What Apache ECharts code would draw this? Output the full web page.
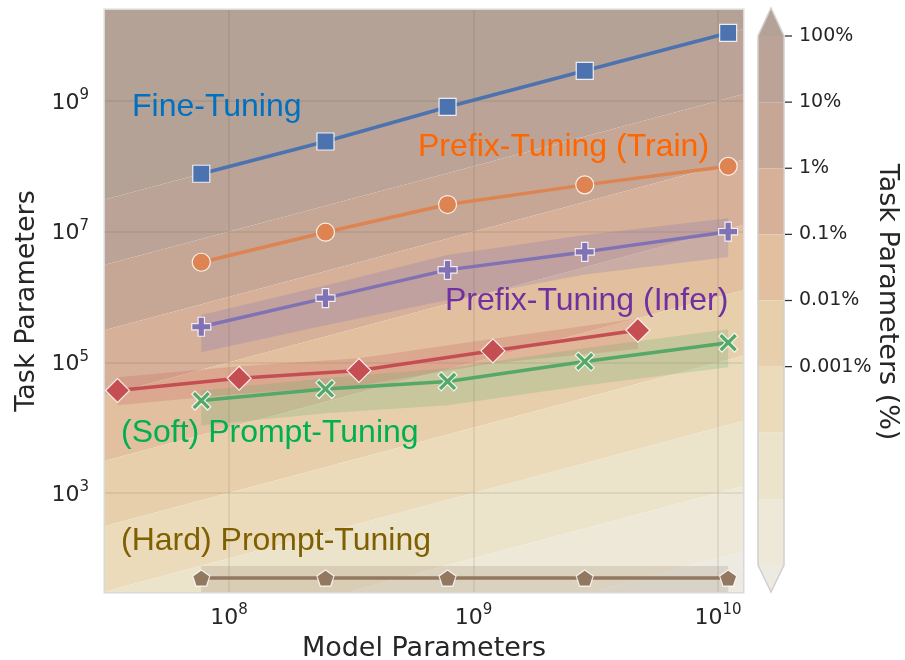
<!DOCTYPE html>
<html><head><meta charset="utf-8">
<script src="https://cdn.jsdelivr.net/npm/echarts@6/dist/echarts.min.js"></script>
<style>html,body{margin:0;padding:0;background:#fff}#c{width:905px;height:660px}</style>
</head><body><div id="c"></div>
<script>
// ---- data ----
const t5Sizes      = [7.7e7, 2.48e8, 7.83e8, 2.85e9, 1.1e10];
const redSizes     = [3.5e7, 1.1e8, 3.4e8, 1.2e9, 4.7e9];

const fineTuning   = [7.7e7, 2.4e8, 8.1e8, 2.9e9, 1.1e10];
const prefixTrain  = [3.4e6, 9.8e6, 2.6e7, 5.2e7, 1.0e8];
const prefixInfer  = [3.5e5, 9.6e5, 2.6e6, 4.9e6, 1.0e7];
const prefixInferLo= [1.43e5, 3.7e5, 9.0e5, 2.2e6, 4.1e6];
const prefixInferHi= [5.3e5, 1.5e6, 4.4e6, 8.9e6, 1.6e7];
const redSeries    = [3.7e4, 5.7e4, 7.5e4, 1.5e5, 3.1e5];
const redLo        = [2.2e4, 3.3e4, 4.4e4, 9.7e4, 1.6e5];
const redHi        = [5.9e4, 8.7e4, 1.15e5, 2.3e5, 4.7e5];
const softPrompt   = [2.6e4, 3.9e4, 5.1e4, 1.03e5, 2.0e5];
const softLo       = [1.08e4, 1.66e4, 2.2e4, 4.4e4, 8.4e4];
const softHi       = [3.7e4, 5.7e4, 8.1e4, 1.64e5, 3.2e5];
const hardPrompt   = [50, 50, 50, 50, 50];
const hardLo       = [25, 25, 25, 25, 25];
const hardHi       = [76, 76, 76, 76, 76];

const xTicks = [1e8, 1e9, 1e10];
const yTicks = [1e3, 1e5, 1e7, 1e9];
// colour-bar levels in percent (top to bottom)
const pctLevels = [100, 10, 1, 0.1, 0.01, 0.001, 1e-4, 1e-5, 1e-6];
const pctTickValues = [100, 10, 1, 0.1, 0.01, 0.001];
const pctTickLabels = ['100%', '10%', '1%', '0.1%', '0.01%', '0.001%'];
const bandColors = ['#b4a296', '#bba497', '#c6a795', '#d6b098', '#e2bf9f',
                    '#e8cfab', '#ebdbbb', '#ece3cb', '#ede8d8', '#eceae1'];

// ---- axis range ----
const X_MIN = 3.11e7, X_MAX = 1.265e10;
const Y_MIN = 30.5, Y_MAX = 2.47e10;

// background bands: [loPct, hiPct]
const bgData = [];
for (let i = 0; i <= pctLevels.length; i++) {
  const hi = i === 0 ? 1e6 : pctLevels[i - 1];
  const lo = i === pctLevels.length ? 1e-10 : pctLevels[i];
  bgData.push([lo, hi]);
}
// colour bar items: [loPct, hiPct, kind]
const cbData = [];
for (let i = 1; i < pctLevels.length; i++) cbData.push([pctLevels[i], pctLevels[i - 1], 0]);

const FONT = 'DejaVu Sans';
const TXT = '#262626';

function zip(xs, ys) { return xs.map((x, i) => [x, ys[i]]); }

function ciSeries(xs, lo, hi, color) {
  return {
    type: 'custom', xAxisIndex: 0, yAxisIndex: 0, z: 4, clip: true, silent: true,
    data: xs.map((x, i) => [x, lo[i], hi[i]]),
    encode: { x: 0, y: [1, 2] },
    renderItem: (params, api) => {
      if (params.dataIndex !== 0) return null;
      const top = xs.map((x, i) => api.coord([x, hi[i]]));
      const bot = xs.map((x, i) => api.coord([x, lo[i]])).reverse();
      return { type: 'polygon', shape: { points: top.concat(bot) }, style: { fill: color } };
    }
  };
}

const plusPath = 'path://M-1,-3L1,-3L1,-1L3,-1L3,1L1,1L1,3L-1,3L-1,1L-3,1L-3,-1L-1,-1Z';
const xPath = 'path://M-3,-2L-2,-3L0,-1L2,-3L3,-2L1,0L3,2L2,3L0,1L-2,3L-3,2L-1,0Z';
const pentPath = 'path://M0,-1L0.951,-0.309L0.588,0.809L-0.588,0.809L-0.951,-0.309Z';

function lineSeries(xs, ys, color, symbol, size) {
  return {
    type: 'line', xAxisIndex: 0, yAxisIndex: 0, z: 5, data: zip(xs, ys),
    symbol: symbol, symbolSize: size, symbolKeepAspect: true, showAllSymbol: true,
    lineStyle: { color: color, width: 3.5 },
    itemStyle: { color: color, borderColor: 'rgba(255,255,255,0.85)', borderWidth: 1.2, opacity: 1 },
    emphasis: { disabled: true }, silent: true
  };
}

const supRich = {
  b: { fontSize: 22, fontFamily: FONT, color: TXT, lineHeight: 26, verticalAlign: 'bottom' },
  s: { fontSize: 15, fontFamily: FONT, color: TXT, lineHeight: 15, verticalAlign: 'top' }
};
function powLabel(v) {
  const e = Math.round(Math.log10(v));
  return '{b|10}{s|' + e + '}';
}

const annFont = '32px "Liberation Sans", Arial';

const chart = echarts.init(document.getElementById('c'), null, { renderer: 'canvas' });
chart.setOption({
  animation: false,
  backgroundColor: '#ffffff',
  grid: [
    { left: 105, top: 10, width: 638, height: 582, show: true, borderColor: '#d9d9d9', borderWidth: 3,
      backgroundColor: 'transparent', containLabel: false, outerBoundsMode: 'none' },
    { left: 758, top: 36, width: 26, height: 529, show: false, containLabel: false, outerBoundsMode: 'none' }
  ],
  xAxis: [
    {
      type: 'log', gridIndex: 0, min: X_MIN, max: X_MAX, z: 3,
      name: 'Model Parameters', nameLocation: 'middle', nameGap: 43,
      nameTextStyle: { fontFamily: FONT, fontSize: 27, color: TXT },
      axisLine: { show: false }, axisTick: { show: false, customValues: xTicks },
      axisLabel: { customValues: xTicks, formatter: powLabel, rich: supRich, margin: 11 },
      splitLine: { show: true, lineStyle: { color: 'rgba(80,60,50,0.13)', width: 1.5 } },
      minorSplitLine: { show: false }
    },
    { type: 'value', gridIndex: 1, min: 0, max: 1, show: false }
  ],
  yAxis: [
    {
      type: 'log', gridIndex: 0, min: Y_MIN, max: Y_MAX, z: 3,
      name: 'Task Parameters', nameLocation: 'middle', nameGap: 57,
      nameTextStyle: { fontFamily: FONT, fontSize: 27, color: TXT },
      axisLine: { show: false }, axisTick: { show: false, customValues: yTicks },
      axisLabel: { customValues: yTicks, formatter: powLabel, rich: supRich, margin: 16 },
      splitLine: { show: true, lineStyle: { color: 'rgba(80,60,50,0.13)', width: 1.5 } }
    },
    {
      type: 'log', gridIndex: 1, min: 1e-6, max: 100, position: 'right',
      axisLine: { show: false },
      axisTick: { show: false, customValues: pctTickValues },
      axisLabel: {
        customValues: pctTickValues, margin: 15, fontFamily: FONT, fontSize: 19, color: TXT,
        formatter: v => {
          const e = Math.round(Math.log10(v));
          const idx = pctTickValues.findIndex(t => Math.round(Math.log10(t)) === e);
          return idx >= 0 ? pctTickLabels[idx] : '';
        }
      },
      splitLine: { show: false }
    }
  ],
  series: [
    {
      type: 'custom', xAxisIndex: 0, yAxisIndex: 0, z: 1, clip: true, silent: true,
      data: bgData, encode: { x: 0, y: 1 },
      renderItem: (params, api) => {
        const lo = api.value(0) / 100, hi = api.value(1) / 100;
        const pts = [
          api.coord([X_MIN, lo * X_MIN]), api.coord([X_MAX, lo * X_MAX]),
          api.coord([X_MAX, hi * X_MAX]), api.coord([X_MIN, hi * X_MIN])
        ];
        return { type: 'polygon', shape: { points: pts }, style: { fill: bandColors[params.dataIndex] } };
      }
    },
    {
      type: 'custom', xAxisIndex: 1, yAxisIndex: 1, z: 2, clip: false, silent: true,
      data: cbData, encode: { x: 2, y: 0 },
      renderItem: (params, api) => {
        const lo = api.value(0), hi = api.value(1);
        const pLo = api.coord([0, lo]), pHi = api.coord([1, hi]);
        const children = [{
          type: 'rect',
          shape: { x: pLo[0], y: pHi[1], width: pHi[0] - pLo[0], height: pLo[1] - pHi[1] },
          style: { fill: bandColors[params.dataIndex + 1] }
        }];
        const cx = (pLo[0] + pHi[0]) / 2;
        if (params.dataIndex === 0) {
          children.push({ type: 'polygon', shape: { points: [[pLo[0], pHi[1]], [pHi[0], pHi[1]], [cx, pHi[1] - 28]] }, style: { fill: bandColors[0] } });
        }
        if (params.dataIndex === cbData.length - 1) {
          children.push({ type: 'polygon', shape: { points: [[pLo[0], pLo[1]], [pHi[0], pLo[1]], [cx, pLo[1] + 27]] }, style: { fill: bandColors[bandColors.length - 1] } });
          const top = api.coord([0, pctLevels[0]])[1];
          children.push({ type: 'polygon', z2: 10, shape: { points: [
            [cx, top - 28], [pHi[0], top], [pHi[0], pLo[1]], [cx, pLo[1] + 27], [pLo[0], pLo[1]], [pLo[0], top]
          ] }, style: { fill: 'none', stroke: '#d0d0d0', lineWidth: 1.5 } });
          pctTickValues.forEach(t => {
            const ty = api.coord([1, t])[1];
            children.push({ type: 'line', z2: 11, shape: { x1: pHi[0] + 1, y1: ty, x2: pHi[0] + 8, y2: ty }, style: { stroke: '#333', lineWidth: 1.3 } });
          });
        }
        return { type: 'group', children: children };
      }
    },
    ciSeries(t5Sizes, prefixInferLo, prefixInferHi, 'rgba(129,114,179,0.25)'),
    ciSeries(redSizes, redLo, redHi, 'rgba(196,78,82,0.2)'),
    ciSeries(t5Sizes, softLo, softHi, 'rgba(85,168,104,0.22)'),
    ciSeries(t5Sizes, hardLo, hardHi, 'rgba(147,120,96,0.2)'),
    lineSeries(t5Sizes, fineTuning, '#4c72b0', 'rect', 17),
    lineSeries(t5Sizes, prefixTrain, '#dd8452', 'circle', 18),
    lineSeries(t5Sizes, prefixInfer, '#8172b3', plusPath, 19),
    lineSeries(redSizes, redSeries, '#c44e52', 'diamond', 24),
    lineSeries(t5Sizes, softPrompt, '#55a868', xPath, 19),
    lineSeries(t5Sizes, hardPrompt, '#937860', pentPath, 17)
  ],
  graphic: [
    { type: 'text', x: 132, y: 107, z: 100, style: { text: 'Fine-Tuning', fill: '#0070c0', font: annFont, textVerticalAlign: 'middle' } },
    { type: 'text', x: 418, y: 147, z: 100, style: { text: 'Prefix-Tuning (Train)', fill: '#ff6600', font: annFont, textVerticalAlign: 'middle' } },
    { type: 'text', x: 445, y: 301, z: 100, style: { text: 'Prefix-Tuning (Infer)', fill: '#7030a0', font: annFont, textVerticalAlign: 'middle' } },
    { type: 'text', x: 121, y: 433, z: 100, style: { text: '(Soft) Prompt-Tuning', fill: '#00b050', font: annFont, textVerticalAlign: 'middle' } },
    { type: 'text', x: 121, y: 541, z: 100, style: { text: '(Hard) Prompt-Tuning', fill: '#7f6000', font: annFont, textVerticalAlign: 'middle' } },
    { type: 'text', x: 887, y: 302, rotation: -Math.PI / 2, z: 100, style: { text: 'Task Parameters (%)', fill: TXT, font: '27px "DejaVu Sans"', textAlign: 'center', textVerticalAlign: 'middle' } }
  ]
});
</script>
</body></html>
